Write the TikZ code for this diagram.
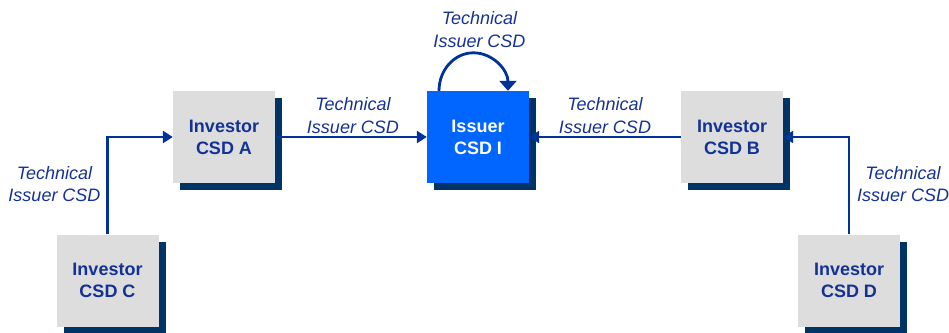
\documentclass[tikz,border=0pt]{standalone}
\usepackage{fontspec}
\setmainfont{Liberation Sans}
\usetikzlibrary{arrows.meta,shadows}
\definecolor{linkblue}{RGB}{0,51,153}
\definecolor{csdtext}{RGB}{20,50,150}
\definecolor{boxgray}{RGB}{221,221,221}
\definecolor{shadowblue}{RGB}{0,51,102}
\definecolor{issuerblue}{RGB}{0,102,255}
\tikzset{
	csdbox/.style={fill=boxgray, minimum width=102pt, minimum height=92pt, inner sep=0pt, align=center,
		text=csdtext, font=\fontsize{18}{22}\selectfont\bfseries,
		drop shadow={shadow xshift=7pt, shadow yshift=-7pt, fill=shadowblue, opacity=1}},
	issuerbox/.style={csdbox, fill=issuerblue, text=white},
	techlabel/.style={align=center, inner sep=0pt, text=csdtext, font=\fontsize{18}{22.5}\selectfont\itshape},
	flow/.style={line width=2.8pt, color=linkblue, -{Triangle[length=10pt,width=12pt]}}
}

\begin{document}
\begin{tikzpicture}[x=1pt,y=1pt]
			%%%%% START %%%%%
			\useasboundingbox (0,0) rectangle (949,332);
			
			\node[csdbox] (A) at (224,195) {Investor\\CSD A};
			\node[issuerbox] (I) at (478,195) {Issuer\\CSD I};
			\node[csdbox] (B) at (732,195) {Investor\\CSD B};
			\node[csdbox] (C) at (107.5,51.5) {Investor\\CSD C};
			\node[csdbox] (D) at (849,51.5) {Investor\\CSD D};
			
			\draw[flow] (A.east) -- (I.west);
			\draw[flow] (B.west) -- (I.east);
			\draw[flow] (C.north) |- (A.west);
			\draw[flow] (D.north) |- (B.east);
			\draw[line width=2.8pt, color=linkblue, -{Triangle[length=10pt,width=17pt]}]
				([xshift=-39pt]I.north) arc[start angle=180, end angle=0, x radius=34.5pt, y radius=38pt];
			
			\node[techlabel] (tI) at (479.5,302.5) {Technical\\Issuer CSD};
			\node[techlabel] (tA) at (353,216.5) {Technical\\Issuer CSD};
			\node[techlabel] (tB) at (605,216.5) {Technical\\Issuer CSD};
			\node[techlabel] (tC) at (54.5,148) {Technical\\Issuer CSD};
			\node[techlabel] (tD) at (903,148) {Technical\\Issuer CSD};
			
			%%%%% END %%%%%
\end{tikzpicture}
\end{document}
